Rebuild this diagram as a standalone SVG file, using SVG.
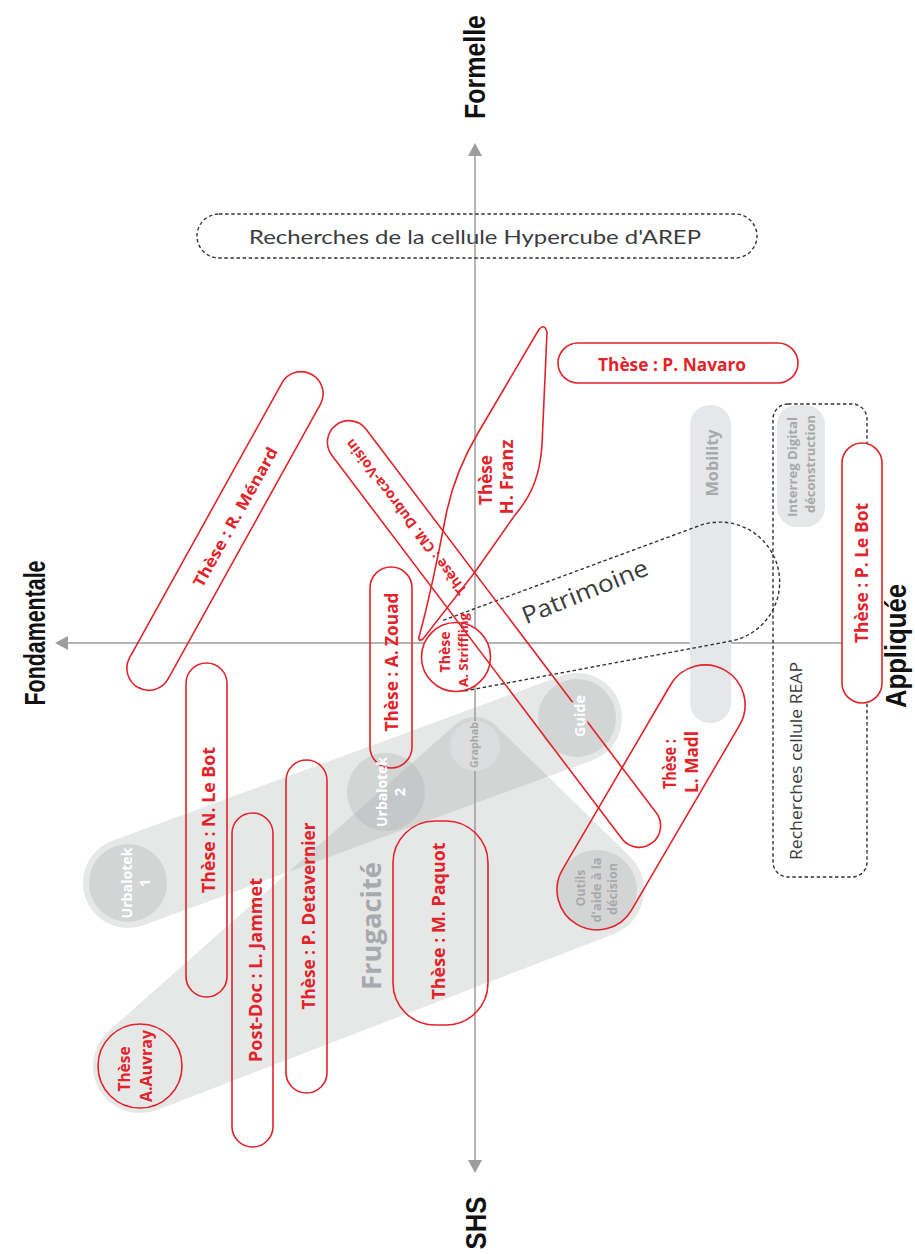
<svg xmlns="http://www.w3.org/2000/svg" width="915" height="1254" viewBox="0 0 915 1254">
<style>
.band{fill:#9fa1a4;fill-opacity:0.26}
.r{fill:none;stroke:#e2232a;stroke-width:1.6}
.rt{font-family:"Open Sans","Liberation Sans",sans-serif;font-weight:700;fill:#e2232a;text-anchor:middle}
.gt{font-family:"Open Sans","Liberation Sans",sans-serif;font-weight:700;fill:#a7a9ac;text-anchor:middle}
.wt{font-family:"Open Sans","Liberation Sans",sans-serif;font-weight:700;fill:#ffffff;text-anchor:middle}
.dt{font-family:"Open Sans","Liberation Sans",sans-serif;font-weight:400;fill:#3c3c3c;text-anchor:middle}
.ax{stroke:#9d9d9d;stroke-width:1.5;fill:none}
.axh{fill:#9d9d9d}
.axl{font-family:"Liberation Sans",Arial,sans-serif;font-weight:700;font-size:29px;fill:#111;text-anchor:middle}
.dash{fill:none;stroke:#333;stroke-width:1.4;stroke-dasharray:3.5 2.6}
.gp{fill:#e6e7e8}
</style>

<!-- gray groupings -->
<g id="band-urbalotek">
  <rect class="band" x="68.3" y="755.5" width="568.4" height="90" rx="45" transform="rotate(-20.17 352.5 800.5)"/>
</g>
<g id="band-frugacite">
  <path class="band" d="M108.9,1030.8 L455.8,724.3 A29,29 0 0 1 495.2,725.2 L629.8,856.3 A47,47 0 0 1 613.9,933.9 L156.9,1109.9 A47,47 0 0 1 108.9,1030.8 Z"/>
</g>
<g id="urbalotek1"><circle class="band" cx="128" cy="883" r="39"/></g>
<g id="urbalotek2"><circle class="band" cx="386" cy="792" r="39"/></g>
<g id="guide"><circle class="band" cx="577" cy="718" r="39"/></g>
<g id="outils"><circle class="band" cx="597" cy="890" r="40"/></g>

<!-- axes -->
<g id="connectors">
  <line class="ax" x1="475" y1="152" x2="475" y2="1162"/>
  <polygon class="axh" points="475,143 468,156 482,156"/>
  <polygon class="axh" points="475,1173 468,1160 482,1160"/>
  <line class="ax" x1="66" y1="643" x2="860" y2="643"/>
  <polygon class="axh" points="55,643 68,636 68,650"/>
</g>

<g id="graphab"><circle cx="475" cy="746" r="25" fill="#dcdddf"/></g>
<g id="mobility"><rect class="gp" x="690" y="405" width="41" height="318" rx="20"/></g>
<g id="interreg"><rect class="gp" x="777" y="405" width="48" height="122" rx="20"/></g>

<!-- dashed groupings -->
<g id="hypercube">
  <rect class="dash" x="197" y="214" width="560" height="44" rx="22"/>
  <text x="475" y="244" font-family="Lato,'Open Sans',sans-serif" font-size="20" fill="#3c3c3c" text-anchor="middle" textLength="452" lengthAdjust="spacingAndGlyphs">Recherches de la cellule Hypercube d'AREP</text>
</g>
<g id="reap">
  <rect class="dash" x="773" y="404" width="94" height="473" rx="15"/>
</g>
<g id="patrimoine">
  <path class="dash" d="M443.2,620.3 L699.2,525.7 A60,60 0 1 1 731.1,641 L462.8,691.4"/>
</g>

<!-- red nodes -->
<g id="these-striffling"><circle cx="456" cy="657" r="34.5" fill="#fff" stroke="#e2232a" stroke-width="1.6"/></g>
<g id="these-navaro"><rect class="r" x="558" y="343" width="240" height="40" rx="20"/></g>
<g id="these-menard"><rect class="r" x="46" y="509" width="358" height="44" rx="22" transform="rotate(-61 225 531)"/></g>
<g id="these-dubroca"><rect class="r" x="232" y="612.5" width="524" height="43" rx="21.5" transform="rotate(52.9 494 634)"/></g>
<g id="these-franz"><path class="r" d="M419,637 C432,590 440,545 446,515 C452,485 462,460 478,433 L538,331 Q544,322 547,332 L542,445 C540,475 532,495 515,515 L475,572 L423,639 Q418,642 419,637 Z"/></g>
<g id="these-zouad"><rect class="r" x="370" y="567" width="42" height="201" rx="21"/></g>
<g id="these-madl"><rect class="r" x="504" y="757.5" width="294.2" height="80" rx="40" transform="rotate(-59.7 651 797.5)"/></g>
<g id="these-nlebot"><rect class="r" x="186" y="663" width="41" height="334" rx="20.5"/></g>
<g id="postdoc-jammet"><rect class="r" x="232" y="813" width="41" height="334" rx="20.5"/></g>
<g id="these-detavernier"><rect class="r" x="286" y="760" width="41" height="333" rx="20.5"/></g>
<g id="these-paquot"><rect class="r" x="393" y="821" width="95" height="204" rx="42"/></g>
<g id="these-plebot"><rect x="842" y="443" width="40" height="260" rx="20" fill="#fff" stroke="#e2232a" stroke-width="1.6"/></g>
<g id="these-auvray"><circle class="r" cx="140" cy="1066" r="42"/></g>

<!-- texts -->
<g id="labels">
  <text class="rt" font-size="17" x="672" y="371" textLength="148" lengthAdjust="spacingAndGlyphs">Thèse : P. Navaro</text>
  <text class="rt" font-size="16" y="6" transform="translate(235,517) rotate(-61)" textLength="157" lengthAdjust="spacingAndGlyphs">Thèse : R. Ménard</text>
  <text class="rt" font-size="14" y="5" transform="translate(406,517) rotate(-127.1)" textLength="191" lengthAdjust="spacingAndGlyphs">Thèse : CM. Dubroca-Voisin</text>
  <text class="rt" font-size="17" transform="translate(492,480) rotate(-90)" textLength="50" lengthAdjust="spacingAndGlyphs">Thèse</text>
  <text class="rt" font-size="17" transform="translate(513,477) rotate(-90)" textLength="75" lengthAdjust="spacingAndGlyphs">H. Franz</text>
  <text class="rt" font-size="17" transform="translate(398,662) rotate(-90)" textLength="139" lengthAdjust="spacingAndGlyphs">Thèse : A. Zouad</text>
  <text class="rt" font-size="14" transform="translate(450,652) rotate(-90)" textLength="41" lengthAdjust="spacingAndGlyphs">Thèse</text>
  <text class="rt" font-size="13" transform="translate(468,650) rotate(-90)" textLength="74" lengthAdjust="spacingAndGlyphs">A. Striffling</text>
  <text class="rt" font-size="17" transform="translate(676,764) rotate(-90)" textLength="50" lengthAdjust="spacingAndGlyphs">Thèse :</text>
  <text class="rt" font-size="17" transform="translate(698,762) rotate(-90)" textLength="62" lengthAdjust="spacingAndGlyphs">L. Madl</text>
  <text class="rt" font-size="17" transform="translate(215,820) rotate(-90)" textLength="146" lengthAdjust="spacingAndGlyphs">Thèse : N. Le Bot</text>
  <text class="rt" font-size="17" transform="translate(262,970) rotate(-90)" textLength="184" lengthAdjust="spacingAndGlyphs">Post-Doc : L. Jammet</text>
  <text class="rt" font-size="17" transform="translate(315,916) rotate(-90)" textLength="187" lengthAdjust="spacingAndGlyphs">Thèse : P. Detavernier</text>
  <text class="rt" font-size="17" transform="translate(445,921) rotate(-90)" textLength="157" lengthAdjust="spacingAndGlyphs">Thèse : M. Paquot</text>
  <text class="rt" font-size="17" transform="translate(868,573) rotate(-90)" textLength="140" lengthAdjust="spacingAndGlyphs">Thèse : P. Le Bot</text>
  <text class="rt" font-size="16" transform="translate(130,1069) rotate(-90)" textLength="45" lengthAdjust="spacingAndGlyphs">Thèse</text>
  <text class="rt" font-size="16" transform="translate(152,1066) rotate(-90)" textLength="72" lengthAdjust="spacingAndGlyphs">A.Auvray</text>

  <text class="wt" font-size="15" transform="translate(132,883) rotate(-90)" textLength="71" lengthAdjust="spacingAndGlyphs">Urbalotek</text>
  <text class="wt" font-size="15" transform="translate(150,883) rotate(-90)">1</text>
  <text class="wt" font-size="15" transform="translate(387,792) rotate(-90)" textLength="70" lengthAdjust="spacingAndGlyphs">Urbalotek</text>
  <text class="wt" font-size="15" transform="translate(405,792) rotate(-90)">2</text>
  <text class="wt" font-size="15" transform="translate(585,716) rotate(-90)" textLength="42" lengthAdjust="spacingAndGlyphs" stroke="#d3d4d6" stroke-width="5" paint-order="stroke">Guide</text>
  <text class="gt" font-size="11" transform="translate(478,745) rotate(-90)" textLength="46" lengthAdjust="spacingAndGlyphs">Graphab</text>
  <text class="gt" font-size="12" transform="translate(585,888) rotate(-90)" textLength="37" lengthAdjust="spacingAndGlyphs">Outils</text>
  <text class="gt" font-size="12" transform="translate(601,890) rotate(-90)" textLength="65" lengthAdjust="spacingAndGlyphs">d'aide à la</text>
  <text class="gt" font-size="12" transform="translate(617,889) rotate(-90)" textLength="52" lengthAdjust="spacingAndGlyphs">décision</text>
  <text class="gt" font-size="26" transform="translate(381,926) rotate(-90)" textLength="128" lengthAdjust="spacingAndGlyphs">Frugacité</text>
  <text class="gt" font-size="16" transform="translate(718,463) rotate(-90)" textLength="67" lengthAdjust="spacingAndGlyphs">Mobility</text>
  <text class="gt" font-size="13" transform="translate(797,467) rotate(-90)" textLength="100" lengthAdjust="spacingAndGlyphs">Interreg Digital</text>
  <text class="gt" font-size="13" transform="translate(815,464) rotate(-90)" textLength="98" lengthAdjust="spacingAndGlyphs">déconstruction</text>
  <text class="dt" font-size="17" transform="translate(802,761) rotate(-90)" textLength="198" lengthAdjust="spacingAndGlyphs">Recherches cellule REAP</text>
  <text class="dt" font-size="24" y="8" transform="translate(585,592) rotate(-22)" textLength="134" lengthAdjust="spacingAndGlyphs">Patrimoine</text>

  <text class="axl" transform="translate(485,67) rotate(-90)" textLength="104" lengthAdjust="spacingAndGlyphs">Formelle</text>
  <text class="axl" transform="translate(486,1223) rotate(-90)" textLength="53" lengthAdjust="spacingAndGlyphs">SHS</text>
  <text class="axl" transform="translate(45,633) rotate(-90)" textLength="145" lengthAdjust="spacingAndGlyphs">Fondamentale</text>
  <text class="axl" transform="translate(906,646) rotate(-90)" textLength="124" lengthAdjust="spacingAndGlyphs">Appliquée</text>
</g>
</svg>
